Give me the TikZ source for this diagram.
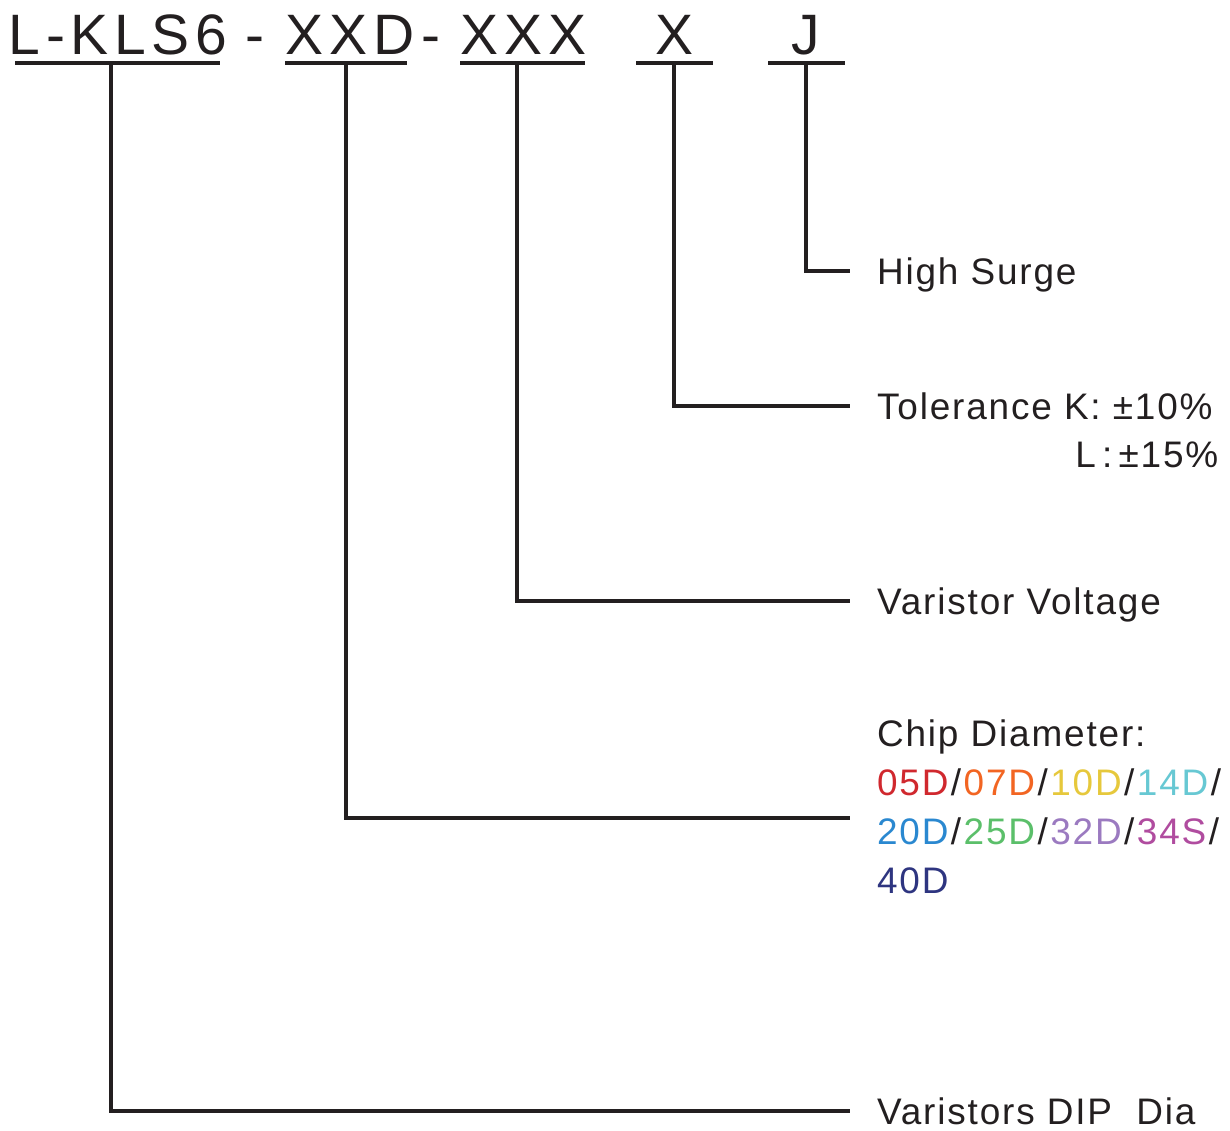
\documentclass[tikz,border=0pt]{standalone}
\usepackage{fontspec}
\usepackage{xcolor}
\usetikzlibrary{positioning}
\newfontfamily\codefamily[LetterSpace=10]{Liberation Sans}
\newfontfamily\labfamily[LetterSpace=5]{Liberation Sans}
\newcommand{\codefont}{\codefamily\fontsize{16.2}{19}\selectfont}
\newcommand{\labfont}{\labfamily\fontsize{10.5}{13.9}\selectfont}
\newcommand{\dsep}{\kern0.7pt/\kern0.7pt}
\definecolor{ink}{HTML}{231F20}
\definecolor{dred}{HTML}{D0282E}
\definecolor{dorange}{HTML}{F26522}
\definecolor{dyellow}{HTML}{E6C83C}
\definecolor{dcyan}{HTML}{67C8D3}
\definecolor{dblue}{HTML}{2A88D0}
\definecolor{dgreen}{HTML}{5BBF6A}
\definecolor{dlav}{HTML}{9B7AC0}
\definecolor{dmag}{HTML}{B04C9F}
\definecolor{dnavy}{HTML}{2E3580}
\tikzset{
  code/.style={anchor=base west, inner sep=0pt, font=\codefont, text=ink},
  lab/.style={anchor=west, inner xsep=7.5pt, inner ysep=0pt, font=\labfont, text=ink,
    text height=7.5pt, text depth=0pt},
  uline/.style={ink, line width=0.95pt},
  leader/.style={ink, line width=0.95pt}
}
\begin{document}
\begin{tikzpicture}[x=0.01cm, y=-0.01cm]
\useasboundingbox (0,0) rectangle (1230,1131);
% part code
\node[code] (partseries) at (8,55) {L-KLS6};
\node[code] (dashA) at (245,55) {-};
\node[code] (partdia) at (285,55) {XXD};
\node[code] (dashB) at (421,55) {-};
\node[code] (partvolt) at (460,55) {XXX};
\node[code] (parttol) at (655,55) {X};
\node[code] (partsurge) at (791,55) {J};
% underlines
\draw[uline] (15,63) -- (220,63);
\draw[uline] (285,63) -- (407,63);
\draw[uline] (460,63) -- (585,63);
\draw[uline] (636,63) -- (713,63);
\draw[uline] (768,63) -- (845,63);
\coordinate (tapseries) at (111,63);
\coordinate (tapdia) at (346,63);
\coordinate (tapvolt) at (517,63);
\coordinate (taptol) at (674,63);
\coordinate (tapsurge) at (806,63);
% labels
\node[lab] (labsurge) at (850,271) {High Surge};
\node[lab] (labtol) at (850,406) {Tolerance K: ±10\%};
\node[lab, anchor=east, inner xsep=0pt] (labtolb) at (1219,454) {L\,:\,±15\%};
\node[lab] (labvolt) at (850,601) {Varistor Voltage};
\node[lab, anchor=north west, text height=, text depth=, align=left] (labdia) at (850,719)
  {Chip Diameter:\\
   \textcolor{dred}{05D}\dsep\textcolor{dorange}{07D}\dsep\textcolor{dyellow}{10D}\dsep\textcolor{dcyan}{14D}\dsep\\
   \textcolor{dblue}{20D}\dsep\textcolor{dgreen}{25D}\dsep\textcolor{dlav}{32D}\dsep\textcolor{dmag}{34S}\dsep\\
   \textcolor{dnavy}{40D}};
\node[lab] (labseries) at (850,1111) {Varistors DIP\ \ Dia};
% leaders
\draw[leader] (tapsurge) |- (labsurge.west);
\draw[leader] (taptol) |- (labtol.west);
\draw[leader] (tapvolt) |- (labvolt.west);
\draw[leader] (tapdia) |- ([yshift=-3.2pt]labdia.west);
\draw[leader] (tapseries) |- (labseries.west);
\end{tikzpicture}
\end{document}
